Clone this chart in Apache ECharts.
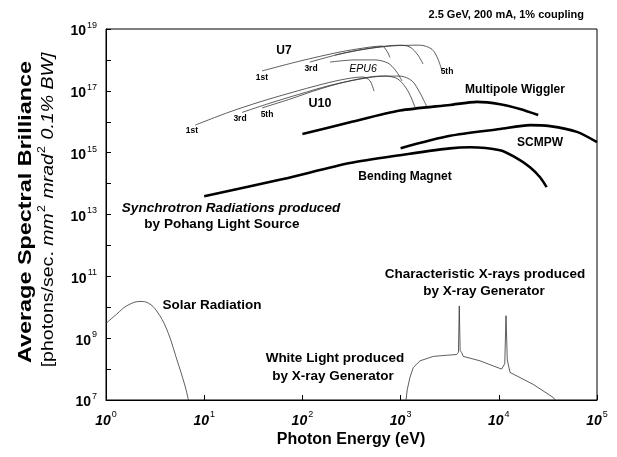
<!DOCTYPE html>
<html><head><meta charset="utf-8">
<script src="https://cdn.jsdelivr.net/npm/echarts@6/dist/echarts.min.js"></script>
<style>html,body{margin:0;padding:0;background:#fff}#c{width:617px;height:457px}</style>
</head><body><div id="c"></div>
<script>
// ---- data (photon energy eV, brilliance) ----
const xTickExponents = [0, 1, 2, 3, 4, 5];
const yTickExponents = [7, 9, 11, 13, 15, 17, 19];

const bendingMagnet = [[10,3.9e13],[63.5,1.4e14],[305,4.6e14],[986,8.3e14],[3184,1.38e15],[5090,1.5e15],[10300,1.2e15],[14600,7.2e14],[20800,3.4e14],[26300,1.6e14],[30700,7.7e13]];
const multipoleWiggler = [[100,4.0e15],[305,9.6e15],[986,2.3e16],[3184,3.5e16],[6000,4.4e16],[10300,3.7e16],[16400,2.6e16],[25200,1.66e16]];
const scmpw = [[1000,1.4e15],[3184,3.5e15],[10300,5.8e15],[20800,7.8e15],[33200,7.2e15],[62500,4.7e15],[100000,2.2e15]];

const u10First = [[8.1,7.8e15],[18.3,2.1e16],[37,4.4e16],[74.8,8.5e16],[162,1.66e17],[272,2.4e17],[414,2.8e17],[488,2.1e17],[536,9.8e16]];
const u10Third = [[24.3,2.0e16],[46.8,4.0e16],[94.6,7.9e16],[191,1.5e17],[386,2.4e17],[694,3.0e17],[941,2.4e17],[1190,9.8e16],[1400,3.0e16]];
const u10Fifth = [[38.8,2.8e16],[74.8,5.4e16],[151,1.15e17],[305,2.1e17],[617,3.0e17],[986,3.0e17],[1306,2.1e17],[1577,8.5e16],[1857,3.0e16]];

const u7First = [[38.8,4.4e17],[94.6,9.2e17],[241,1.8e18],[488,2.6e18],[647,2.8e18],[727,1.9e18],[780,1.2e18]];
const u7Third = [[119,8.5e17],[241,1.55e18],[488,2.4e18],[986,3.0e18],[1247,2.6e18],[1500,1.44e18],[1690,7.4e17]];
const u7Fifth = [[215,1.44e18],[386,2.1e18],[780,2.8e18],[1577,3.0e18],[2090,2.2e18],[2400,1.07e18],[2640,4.4e17]];
const epu6 = [[191,8.5e17],[343,1.0e18],[549,1.0e18],[744,7.9e17],[897,4.4e17],[1033,2.1e17]];

const solarRadiation = [[1,3.0e9],[1.285,6.0e9],[1.625,1.11e10],[2.22,1.54e10],[2.70,1.36e10],[3.28,7.6e9],[4.15,1.95e9],[5.25,2.1e8],[6.37,2.9e7],[6.9,1.0e7]];
const xrayGenerator = [[1135,1e7],[1170,2.2e7],[1246,5.4e7],[1347,1.13e8],[1577,1.85e8],[2153,2.57e8],[2946,2.8e8],[3722,2.96e8],[3880,3.5e8],[3960,1.1e10],[4040,4e8],[4190,3.4e8],[4350,2.57e8],[6440,1.85e8],[8800,1.26e8],[10700,1.0e8],[11500,1.5e8],[11840,5.3e9],[12200,2e8],[13000,7.8e7],[22400,3.2e7],[35900,1.2e7],[37500,1e7]];

// ---- chart ----
const FF = '"Liberation Sans", Arial, sans-serif';
const chart = echarts.init(document.getElementById('c'), null, {renderer: 'canvas'});

function thick(name, data) {
  return {name, type: 'line', data, smooth: 0.25, symbol: 'none', z: 4,
    lineStyle: {color: '#000', width: 2.6}};
}
function thin(name, data, smooth) {
  return {name, type: 'line', data, smooth: smooth, symbol: 'none', z: 3,
    lineStyle: {color: '#333', width: 0.8}};
}
function txt(x, y, text, font, align) {
  const a = align || 'center';
  return {type: 'text', x, y, z: 10,
    style: {text, font: font, fill: '#000', align: a, verticalAlign: 'middle',
      textAlign: a, textVerticalAlign: 'middle'}};
}
function supLabel(e) {
  return '{b|10}{s|' + e + '}';
}

const option = {
  animation: false,
  backgroundColor: '#fff',
  grid: {left: 106, right: 20, top: 29, bottom: 57, show: true, borderColor: '#000', borderWidth: 1, containLabel: false},
  xAxis: {
    type: 'log', logBase: 10, min: 1, max: 1e5, interval: 1,
    axisLine: {show: true, lineStyle: {color: '#000', width: 1}},
    axisTick: {show: true, inside: true, length: 5, lineStyle: {color: '#000'}},
    splitLine: {show: false}, minorTick: {show: false},
    axisLabel: {
      margin: 8, color: '#000',
      formatter: function (v) {
        const e = Math.round(Math.log10(v));
        return xTickExponents.indexOf(e) >= 0 ? supLabel(e) : '';
      },
      rich: {
        b: {fontFamily: FF, fontSize: 14, fontWeight: 'bold', fontStyle: 'italic', color: '#000', padding: [6, 0, 0, 0]},
        s: {fontFamily: FF, fontSize: 9, color: '#000', padding: [0, 0, 6, 1]}
      }
    }
  },
  yAxis: {
    type: 'log', logBase: 10, min: 1e7, max: 1e19, interval: 1,
    axisLine: {show: true, lineStyle: {color: '#000', width: 1}},
    axisTick: {show: true, inside: true, length: 5, lineStyle: {color: '#000'}},
    splitLine: {show: false}, minorTick: {show: false},
    axisLabel: {
      margin: 9, color: '#000',
      formatter: function (v) {
        const e = Math.round(Math.log10(v));
        return yTickExponents.indexOf(e) >= 0 ? supLabel(e) : '';
      },
      rich: {
        b: {fontFamily: FF, fontSize: 14, fontWeight: 'bold', color: '#000', padding: [5, 0, 0, 0]},
        s: {fontFamily: FF, fontSize: 9, color: '#000', padding: [0, 0, 7, 1]}
      }
    }
  },
  series: [
    thick('Bending Magnet', bendingMagnet),
    thick('Multipole Wiggler', multipoleWiggler),
    thick('SCMPW', scmpw),
    thin('U10 1st', u10First, 0.3),
    thin('U10 3rd', u10Third, 0.3),
    thin('U10 5th', u10Fifth, 0.3),
    thin('U7 1st', u7First, 0.3),
    thin('U7 3rd', u7Third, 0.3),
    thin('U7 5th', u7Fifth, 0.3),
    thin('EPU6', epu6, 0.3),
    thin('Solar Radiation', solarRadiation, 0.4),
    thin('X-ray Generator', xrayGenerator, false)
  ],
  graphic: [
    txt(584, 15, '2.5 GeV, 200 mA, 1% coupling', 'bold 11px ' + FF, 'right'),
    txt(284, 51, 'U7', 'bold 12px ' + FF),
    txt(262, 78, '1st', 'bold 8.5px ' + FF),
    txt(311, 69, '3rd', 'bold 8.5px ' + FF),
    txt(363, 69, 'EPU6', 'italic 10.5px ' + FF),
    txt(447, 72, '5th', 'bold 8.5px ' + FF),
    txt(320, 104, 'U10', 'bold 12.5px ' + FF),
    txt(192, 131, '1st', 'bold 8.5px ' + FF),
    txt(240, 119, '3rd', 'bold 8.5px ' + FF),
    txt(267, 115, '5th', 'bold 8.5px ' + FF),
    txt(515, 90, 'Multipole Wiggler', 'bold 12px ' + FF),
    txt(540, 143, 'SCMPW', 'bold 12px ' + FF),
    txt(405, 177, 'Bending Magnet', 'bold 12px ' + FF),
    txt(231, 208, 'Synchrotron Radiations produced', 'bold italic 13.5px ' + FF),
    txt(222, 224, 'by Pohang Light Source', 'bold 13.5px ' + FF),
    txt(212, 305, 'Solar Radiation', 'bold 13.5px ' + FF),
    txt(335, 358, 'White Light produced', 'bold 13.5px ' + FF),
    txt(333, 376, 'by X-ray Generator', 'bold 13.5px ' + FF),
    txt(485, 274, 'Characteristic X-rays produced', 'bold 13.5px ' + FF),
    txt(484, 291, 'by X-ray Generator', 'bold 13.5px ' + FF),
    txt(351, 440, 'Photon Energy (eV)', 'bold 16px ' + FF),
    {type: 'text', x: 26, y: 212, rotation: Math.PI / 2, scaleX: 1.3, z: 10,
      style: {text: 'Average Spectral Brilliance', font: 'bold 18px ' + FF, fill: '#000',
        align: 'center', verticalAlign: 'middle', textAlign: 'center', textVerticalAlign: 'middle'}},
    {type: 'text', x: 46, y: 210, rotation: Math.PI / 2, scaleX: 1.22, z: 10,
      style: {text: '{n|[photons/sec. }{i|mm}{s|2}{i| mrad}{s|2}{i| 0.1% BW]}', fill: '#000',
        align: 'center', verticalAlign: 'middle', textAlign: 'center', textVerticalAlign: 'middle',
        rich: {
          n: {fontFamily: FF, fontSize: 16, fill: '#000', color: '#000', padding: [6, 0, 0, 0]},
          i: {fontFamily: FF, fontSize: 16, fontStyle: 'italic', fill: '#000', color: '#000', padding: [6, 0, 0, 0]},
          s: {fontFamily: FF, fontSize: 10, fill: '#000', color: '#000', padding: [0, 1, 8, 1]}
        }}}
  ]
};
chart.setOption(option);
</script>
</body></html>
